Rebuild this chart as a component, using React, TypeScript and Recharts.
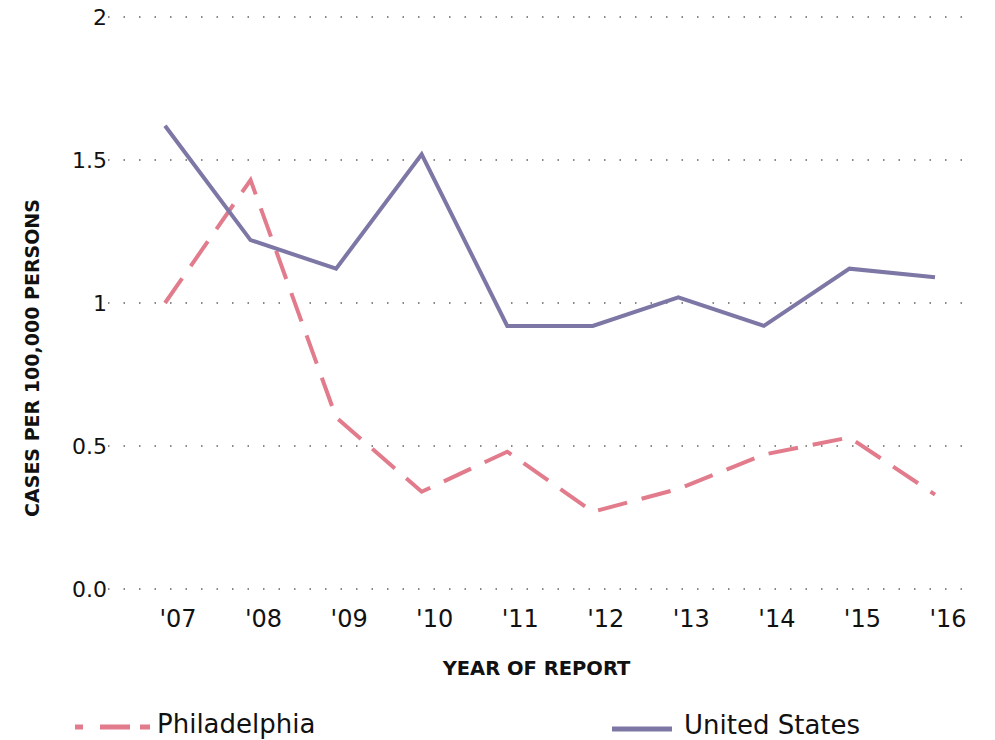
import React from "react";
import { LineChart, Line, XAxis, YAxis, CartesianGrid, Legend } from "recharts";

const years = ["'07", "'08", "'09", "'10", "'11", "'12", "'13", "'14", "'15", "'16"];
const philadelphia = [1.0, 1.43, 0.6, 0.34, 0.48, 0.27, 0.35, 0.47, 0.53, 0.33];
const unitedStates = [1.62, 1.22, 1.12, 1.52, 0.92, 0.92, 1.02, 0.92, 1.12, 1.09];
const yTicks = [0, 0.5, 1, 1.5, 2];

const data = years.map((y, i) => ({ year: y, philadelphia: philadelphia[i], unitedStates: unitedStates[i] }));

const FONT = "'DejaVu Sans', sans-serif";
const PINK = "#e27b8b";
const PURPLE = "#7c77a5";

const LegendContent = () => (
  <div style={{ position: "relative", width: 995, height: 36, fontFamily: FONT }}>
    <svg style={{ position: "absolute", left: 75, top: 21 }} width={80} height={12}>
      <line x1={0} y1={6} x2={75} y2={6} stroke={PINK} strokeWidth={5} strokeDasharray="8 17 30 10 15" />
    </svg>
    <span style={{ position: "absolute", left: 157, top: 10, fontSize: 26, lineHeight: "28px", color: "#111" }}>Philadelphia</span>
    <svg style={{ position: "absolute", left: 612, top: 23 }} width={62} height={12}>
      <line x1={0} y1={6} x2={60} y2={6} stroke={PURPLE} strokeWidth={5} />
    </svg>
    <span style={{ position: "absolute", left: 684, top: 11, fontSize: 26, lineHeight: "28px", color: "#111" }}>United States</span>
  </div>
);

const YLabel = (props: any) => {
  const vb = props.viewBox || {};
  const cx = 32;
  const cy = (vb.y ?? 17) + (vb.height ?? 572) / 2 + 55;
  return (
    <text
      x={cx}
      y={cy}
      transform={`rotate(-90, ${cx}, ${cy})`}
      textAnchor="middle"
      dominantBaseline="central"
      style={{ fontFamily: FONT, fontSize: 19, fontWeight: 700, fill: "#111" }}
    >
      CASES PER 100,000 PERSONS
    </text>
  );
};

export default function App() {
  return (
    <div style={{ position: "absolute", left: 0, top: 0, background: "#fff" }}>
      <LineChart width={995} height={740} data={data} margin={{ top: 17, right: 30, bottom: 91, left: 0 }}>
        <CartesianGrid horizontal vertical={false} stroke="#888" strokeWidth={2} strokeDasharray="1.5 14" />
        <XAxis
          dataKey="year"
          axisLine={false}
          tickLine={false}
          padding={{ left: 57, right: 30 }}
          tick={{ fontFamily: FONT, fontSize: 24, fill: "#111", dx: 13 }}
          tickMargin={15}
          label={{ value: "YEAR OF REPORT", position: "insideBottom", offset: -26, style: { fontFamily: FONT, fontSize: 19.5, fontWeight: 700, fill: "#111" } }}
          height={60}
        />
        <YAxis
          domain={[0, 2]}
          ticks={yTicks}
          axisLine={false}
          tickLine={false}
          tickSize={0}
          width={108}
          interval={0}
          tickFormatter={(v: number) => (v === 0 ? "0.0" : String(v))}
          tick={{ fontFamily: FONT, fontSize: 22, fill: "#111" }}
          tickMargin={1}
          label={<YLabel />}
        />
        <Legend layout="horizontal" verticalAlign="middle" wrapperStyle={{ top: 700, left: 0, width: 995 }} content={LegendContent} />
        <Line type="linear" dataKey="philadelphia" stroke={PINK} strokeWidth={4} strokeDasharray="30 15" dot={false} isAnimationActive={false} />
        <Line type="linear" dataKey="unitedStates" stroke={PURPLE} strokeWidth={4} dot={false} isAnimationActive={false} />
      </LineChart>
    </div>
  );
}
